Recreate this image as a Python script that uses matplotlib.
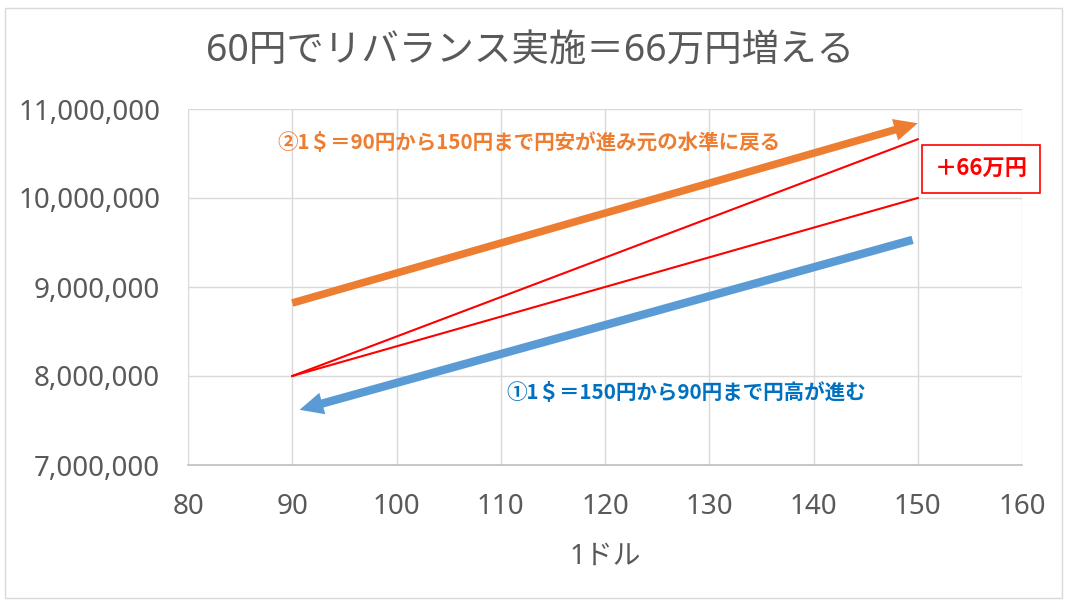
import matplotlib
matplotlib.use('Agg')
import matplotlib.pyplot as plt
from matplotlib.patches import Rectangle
from matplotlib.ticker import FuncFormatter

plt.rcParams['font.family'] = ['Noto Sans', 'Noto Sans CJK JP', 'DejaVu Sans']

# データ (1ドルの価格, 資産額)
price = [90, 150]
no_rebalance = [8_000_000, 10_000_000]
with_rebalance = [8_000_000, 10_660_000]

# 矢印 (始点 -> 終点)
orange_x = [90, 150]
orange_y = [8_820_000, 10_840_000]
blue_x = [149.5, 90.7]
blue_y = [9_530_000, 7_620_000]

x_ticks = [80, 90, 100, 110, 120, 130, 140, 150, 160]
y_ticks = [7_000_000, 8_000_000, 9_000_000, 10_000_000, 11_000_000]

title = '60円でリバランス実施＝66万円増える'
orange_label = '②1＄＝90円から150円まで円安が進み元の水準に戻る'
blue_label = '①1＄＝150円から90円まで円高が進む'
gain_label = '＋66万円'

gray = '#595959'
orange = '#ED7D31'
blue = '#5B9BD5'
cjk = ['Noto Sans CJK JP', 'DejaVu Sans']

fig = plt.figure(figsize=(10.69, 6.02), dpi=100)
ax = fig.add_axes([188/1069, 1 - 465/602, (1022-188)/1069, (465-109)/602])

ax.plot(price, with_rebalance, color='red', lw=1.5, zorder=3)
ax.plot(price, no_rebalance, color='red', lw=1.5, zorder=3)

ax.annotate('', xy=(orange_x[1], orange_y[1]), xytext=(orange_x[0], orange_y[0]),
            arrowprops=dict(facecolor=orange, edgecolor='none', width=5.5,
                            headwidth=16, headlength=17, shrink=0), zorder=4)
ax.annotate('', xy=(blue_x[1], blue_y[1]), xytext=(blue_x[0], blue_y[0]),
            arrowprops=dict(facecolor=blue, edgecolor='none', width=6.0,
                            headwidth=16, headlength=17, shrink=0), zorder=4)

ax.set_xlim(80, 160)
ax.set_ylim(7_000_000, 11_000_000)
ax.set_xticks(x_ticks)
ax.set_yticks(y_ticks)
ax.yaxis.set_major_formatter(FuncFormatter(lambda v, p: f'{int(v):,}'))
ax.tick_params(axis='both', length=0, labelsize=20, labelcolor=gray)
ax.tick_params(axis='y', pad=20)
ax.tick_params(axis='x', pad=20)
ax.grid(True, color='#D9D9D9', lw=1)
ax.set_axisbelow(True)
for s in ['left', 'right', 'top']:
    ax.spines[s].set_visible(False)
ax.spines['bottom'].set_color('#BFBFBF')
ax.spines['bottom'].set_linewidth(1.2)

ax.set_xlabel('1ドル', fontsize=20, color=gray, labelpad=16)

ax.text(112.7, 10_620_000, orange_label, color=orange, fontsize=14.8,
        fontweight='bold', ha='center', va='center', family=cjk)
ax.text(127.8, 7_810_000, blue_label, color='#0070C0', fontsize=14.8,
        fontweight='bold', ha='center', va='center', family=cjk)
ax.text(981/1069, 1 - 169/602, gain_label, transform=fig.transFigure, color='red',
        fontsize=16, fontweight='bold', ha='center', va='center', family=cjk,
        bbox=dict(boxstyle='square,pad=0.55', fc='white', ec='red', lw=1.2))

fig.text(530/1069, 1 - 52/602, title, fontsize=27, color=gray,
         ha='center', va='center')

# 外枠
fig.patches.append(Rectangle((5/1069, 1 - 598/602), 1057/1069, 590/602,
                             transform=fig.transFigure, fill=False,
                             ec='#D9D9D9', lw=1))

fig.savefig('out.png', dpi=100)
